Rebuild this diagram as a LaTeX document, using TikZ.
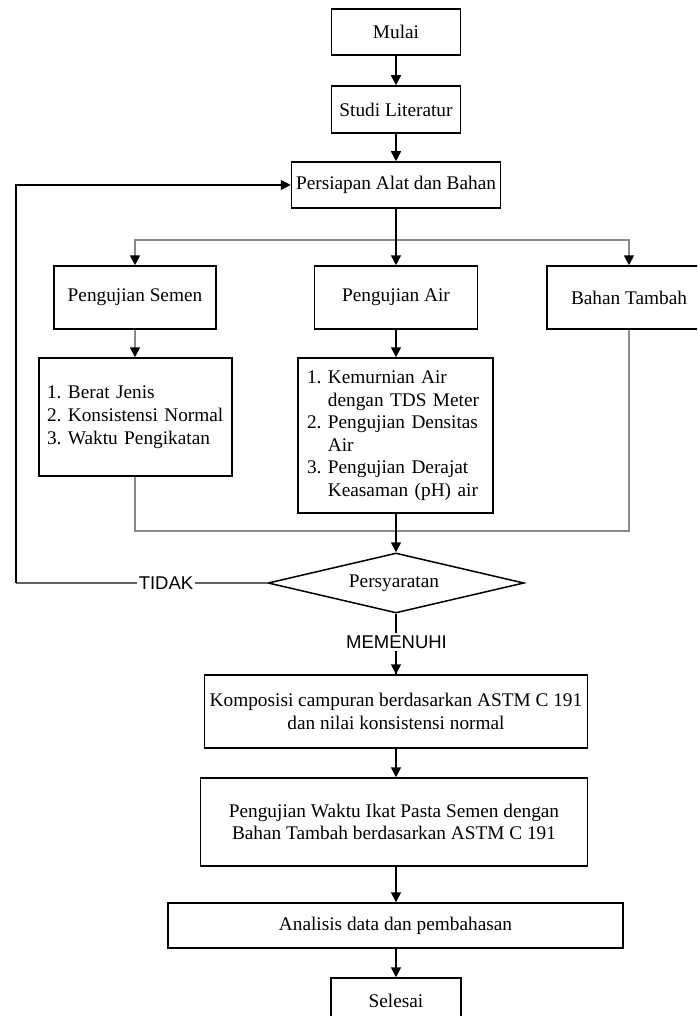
\documentclass[tikz,border=0pt]{standalone}
\usepackage{fontspec}
\setmainfont{Liberation Serif}
\newfontfamily\lblfont{Liberation Sans}
\usetikzlibrary{shapes.geometric,arrows.meta}
\definecolor{lgray}{HTML}{8A8A8A}
\definecolor{dgray}{HTML}{606060}
\newcommand{\myfs}{\fontsize{19.3pt}{22.6pt}\selectfont}
\begin{document}
\begin{tikzpicture}[x=1pt,y=-1pt,
  box/.style={draw=black,line width=1.5pt,inner sep=0pt,align=center,font=\myfs},
  listbox/.style={draw=black,line width=1.5pt,inner ysep=0pt,align=left,font=\myfs},
  dec/.style={draw=black,line width=1.5pt,shape=diamond,inner sep=0pt,font=\myfs},
  lbl/.style={font=\lblfont\fontsize{18.5pt}{20pt}\selectfont,fill=white,inner sep=2pt},
  bline/.style={draw=black,line width=1.5pt},
  gline/.style={draw=lgray,line width=1.8pt},
  tline/.style={draw=dgray,line width=1.5pt},
  arr/.style={bline,-{Triangle[length=10pt,width=10pt]}},
  garr/.style={gline,-{Triangle[length=10pt,width=10pt,color=black]}}]
\useasboundingbox (0,0) rectangle (697,1016);
\clip (0,0) rectangle (697,1016);
\fill[white] (0,0) rectangle (697,1016);

\node[box,minimum width=129pt,minimum height=46pt] (mulai) at (396,32) {Mulai};
\node[box,minimum width=129pt,minimum height=47pt] (studi) at (396,109.5) {Studi Literatur};
\node[box,minimum width=209pt,minimum height=46pt] (persiapan) at (396,185) {Persiapan Alat dan Bahan};

\node[box,minimum width=162pt,minimum height=63pt] (semen) at (135,297.5) {Pengujian Semen};
\node[box,minimum width=163pt,minimum height=63pt] (air) at (396,297.5) {Pengujian Air};
\node[box,minimum width=164pt,minimum height=63pt] (bahan) at (629,297.5) {Bahan Tambah};

\node[listbox,text width=177pt,inner xsep=8pt,minimum height=118pt] (semenlist) at (135.5,417)
  {\begin{tabular}{@{}l@{\ }l@{}}1.&Berat Jenis\\2.&Konsistensi Normal\\3.&Waktu Pengikatan\end{tabular}};
\node[listbox,text width=177pt,inner xsep=9pt,minimum height=155pt] (airlist) at (395.5,435.5)
  {\begin{tabular}{@{}l@{\ }l@{}}1.&Kemurnian Air\\&dengan TDS Meter\\2.&Pengujian Densitas\\&Air\\3.&Pengujian Derajat\\&Keasaman (pH) air\end{tabular}};

\node[dec,minimum width=256pt,minimum height=60pt] (syarat) at (396,583) {};
\node[font=\myfs,inner sep=0pt] (syarattxt) at (394,583) {Persyaratan};

\node[box,minimum width=383pt,minimum height=73pt] (komp) at (396,711.5)
  {Komposisi campuran berdasarkan ASTM C 191\\dan nilai konsistensi normal};
\node[box,minimum width=387pt,minimum height=88pt] (waktu) at (394,822)
  {Pengujian Waktu Ikat Pasta Semen dengan\\Bahan Tambah berdasarkan ASTM C 191};
\node[box,minimum width=455pt,minimum height=45pt] (analisis) at (395.5,925.5) {Analisis data dan pembahasan};
\node[box,minimum width=130pt,minimum height=46pt] (selesai) at (396,1001) {Selesai};

% connectors
\draw[arr] (mulai.south) -- (studi.north);
\draw[arr] (studi.south) -- (persiapan.north);
\coordinate (bc) at (396,240);
\draw[garr] (bc) -| (semen.north);
\draw[garr] (bc) -| (bahan.north);
\draw[arr] (persiapan.south) -- (air.north);
\draw[garr] (semen.south) -- (semen.south |- semenlist.north);
\draw[arr] (air.south) -- (air.south |- airlist.north);
\coordinate (mg) at (396,531);
\draw[gline] (semenlist.south -| semen.south) |- (mg) -| (bahan.south);
\draw[arr] (airlist.south -| air.south) -- (syarat.north);

\coordinate (lc) at (16,583);
\draw[tline] (syarat.west) -- (lc);
\draw[arr] (lc) |- (persiapan.west);
\node[lbl] (tidak) at (166,583) {TIDAK};

\draw[bline] (syarat.south) -- (396,674);
\node[lbl,inner sep=3pt] (memenuhi) at (396.5,642) {MEMENUHI};
\draw[arr] (memenuhi.south -| syarat.south) -- (komp.north);

\draw[arr] (komp.south) -- (komp.south |- waktu.north);
\draw[arr] (komp.south |- waktu.south) -- (komp.south |- analisis.north);
\draw[arr] (selesai.north |- analisis.south) -- (selesai.north);
\end{tikzpicture}
\end{document}
